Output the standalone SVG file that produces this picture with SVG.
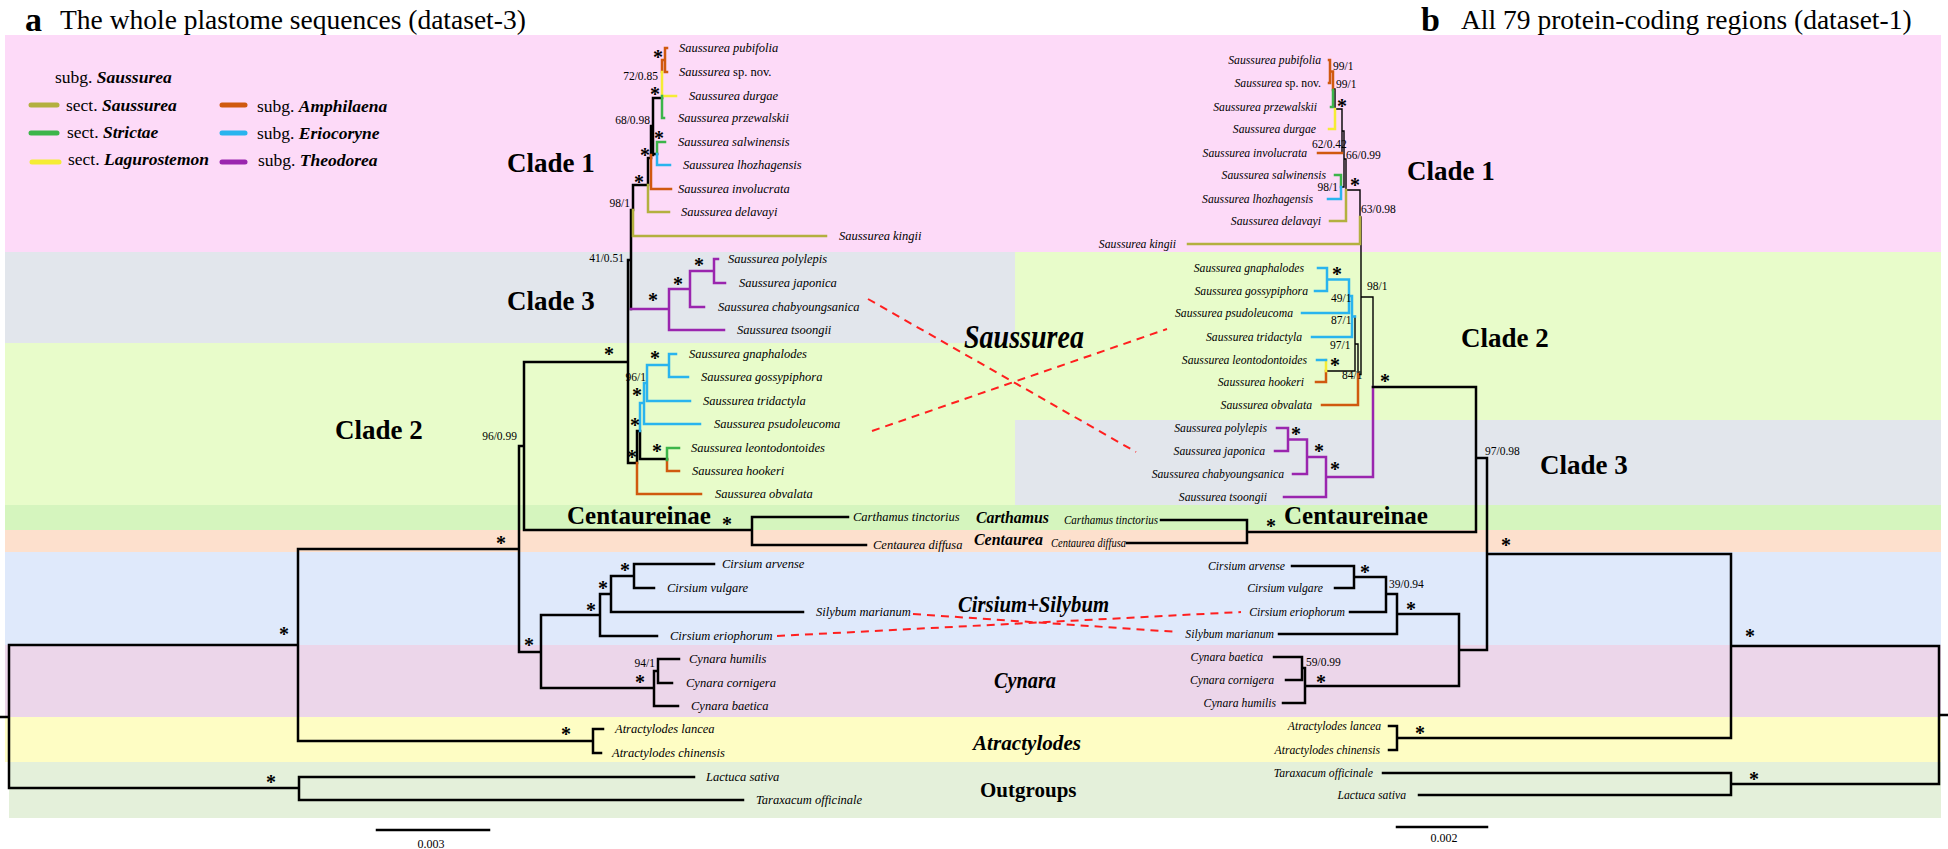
<svg xmlns="http://www.w3.org/2000/svg" width="1948" height="849" viewBox="0 0 1948 849">
<style>
text{font-family:"Liberation Serif","Times New Roman",serif;fill:#000}
.tl{font-size:12.5px;font-style:italic}
.tr{font-size:11.7px;font-style:italic;text-anchor:end}
.up{font-style:normal}
.sv{font-size:11.5px}
.sve{font-size:11.5px;text-anchor:end}
.ast{font-size:20px;font-weight:bold;text-anchor:middle}
.cl{font-size:27px;font-weight:bold}
.gi{font-weight:bold;font-style:italic}
.br{fill:none;stroke-width:2.5;stroke-linecap:square}
.th{stroke-width:1.4}
.k{stroke:#000}.o{stroke:#b3b03f}.g{stroke:#3cb54a}.y{stroke:#f5ec35}.r{stroke:#d0590f}.b{stroke:#29b4ee}.p{stroke:#9a25ae}
.dash{fill:none;stroke:#ff1f1f;stroke-width:2;stroke-dasharray:8 6}
.sw{stroke-width:5;stroke-linecap:round}
.leg{font-size:17.5px}
</style>
<g id="bands">
<rect x="5" y="35" width="1936" height="217" fill="#fddaf8"/>
<rect x="5" y="252" width="1010" height="91" fill="#e2e6ec"/>
<rect x="5" y="343" width="1010" height="162" fill="#e8fcca"/>
<rect x="1015" y="252" width="926" height="168" fill="#e8fcca"/>
<rect x="1015" y="420" width="926" height="85" fill="#e2e6ec"/>
<rect x="5" y="505" width="1936" height="25" fill="#d5f5be"/>
<rect x="5" y="530" width="1936" height="22" fill="#fde0cd"/>
<rect x="5" y="552" width="1936" height="93" fill="#dfe9fb"/>
<rect x="5" y="645" width="1936" height="72" fill="#ecd6ea"/>
<rect x="5" y="717" width="1936" height="45" fill="#fefdc4"/>
<rect x="9" y="762" width="1932" height="56" fill="#e4f0da"/>
</g>
<g id="titles">
<text x="25" y="31" font-size="34" font-weight="bold">a</text>
<text x="60" y="29" font-size="27.5">The whole plastome sequences (dataset-3)</text>
<text x="1421" y="31" font-size="34" font-weight="bold">b</text>
<text x="1461" y="29" font-size="27.5">All 79 protein-coding regions (dataset-1)</text>
</g>
<g id="legend">
<text class="leg" x="55" y="83">subg. <tspan class="gi">Saussurea</tspan></text>
<line class="sw o" x1="31" y1="105" x2="57" y2="105"/>
<text class="leg" x="66" y="111">sect. <tspan class="gi">Saussurea</tspan></text>
<line class="sw g" x1="31" y1="133" x2="57" y2="133"/>
<text class="leg" x="67" y="138">sect. <tspan class="gi">Strictae</tspan></text>
<line class="sw y" x1="32" y1="162" x2="59" y2="162"/>
<text class="leg" x="68" y="165">sect. <tspan class="gi">Lagurostemon</tspan></text>
<line class="sw r" x1="222" y1="105" x2="245" y2="105"/>
<text class="leg" x="257" y="112">subg. <tspan class="gi">Amphilaena</tspan></text>
<line class="sw b" x1="222" y1="133" x2="245" y2="133"/>
<text class="leg" x="257" y="139">subg. <tspan class="gi">Eriocoryne</tspan></text>
<line class="sw p" x1="222" y1="162" x2="245" y2="162"/>
<text class="leg" x="258" y="166">subg. <tspan class="gi">Theodorea</tspan></text>
</g>
<g id="group-labels">
<text class="cl" x="507" y="172">Clade 1</text>
<text class="cl" x="507" y="310">Clade 3</text>
<text class="cl" x="335" y="439">Clade 2</text>
<text x="567" y="524" font-size="25" font-weight="bold">Centaureinae</text>
<text class="cl" x="1407" y="180">Clade 1</text>
<text class="cl" x="1461" y="347">Clade 2</text>
<text class="cl" x="1540" y="474">Clade 3</text>
<text x="1284" y="524" font-size="25" font-weight="bold">Centaureinae</text>
<text class="gi" x="964" y="348" font-size="34" textLength="120" lengthAdjust="spacingAndGlyphs">Saussurea</text>
<text class="gi" x="958" y="612" font-size="23" textLength="151" lengthAdjust="spacingAndGlyphs">Cirsium+Silybum</text>
<text class="gi" x="994" y="688" font-size="24" textLength="62" lengthAdjust="spacingAndGlyphs">Cynara</text>
<text class="gi" x="973" y="750" font-size="22" textLength="108" lengthAdjust="spacingAndGlyphs">Atractylodes</text>
<text x="980" y="797" font-size="21" font-weight="bold">Outgroups</text>
<text class="gi" x="976" y="523" font-size="16.5" textLength="73" lengthAdjust="spacingAndGlyphs">Carthamus</text>
<text class="gi" x="974" y="545" font-size="16.5" textLength="69" lengthAdjust="spacingAndGlyphs">Centaurea</text>
</g>
<g id="connectors">
<path class="br k" d="M662,98H653M653,98V155M657,154H653M653,126H651M651,126V155M651,158H648M648,158V185M648,185H633M633,185V210M633,210H631M631,210V309M631,260H628M640,431V459M667,459H640M640,431H637M637,431V463M637,463H628M628,260V463M628,362H524M524,362V530M524,446H519M524,530H752M752,517V545M752,517H848M752,545H866M634,564V588M634,564H714M634,588H654M634,576H611M611,576V612M611,612H803M611,594H600M600,594V636M600,636H657M600,615H541M658,659V683M658,659H679M658,683H672M658,671H654M654,671V706M654,706H678M654,688H541M541,615V688M541,652H519M519,446V652M519,549H298M593,729V753M593,729H603M593,753H601M593,741H298M298,549V741M298,645H9M299,777V800M299,777H694M299,800H743M299,788H9M9,645V788M9,717H0"/>
<path class="br r" d="M665,48V72M665,48H667M665,72H667M665,60H662M662,60V72M651,155V189M651,189H671M667,460V471M667,471H679M637,463V494M637,494H701"/>
<path class="br y" d="M662,72V96M662,96H676"/>
<path class="br g" d="M662,96V118M662,118H664M657,142V154M657,142H665M667,448V460M667,448H679"/>
<path class="br b" d="M657,154V165M657,165H670M669,354V377M669,354H676M669,377H688M669,365H647M647,365V401M647,401H690M647,383H644M644,383V424M644,424H700M644,403H640M640,403V431"/>
<path class="br o" d="M648,185V212M648,212H669M633,210V236M633,236H826"/>
<path class="br p" d="M714,259V283M714,259H718M714,283H725M714,271H690M690,271V307M690,307H704M690,289H669M669,289V330M669,330H724M669,309H631"/>
<path class="br k th" d="M1335,89V109M1335,109H1342M1342,109V153M1342,131H1344M1341,187H1344M1344,131V187M1344,159H1346M1346,159V190M1346,190H1360M1360,190V217M1360,217H1361M1361,217V374M1361,297H1373M1373,297V387M1326,371H1355M1355,316.5V371M1355,344H1358M1358,344V374M1358,374.5H1361M1333,89H1335"/>
<path class="br r" d="M1329,60H1330M1329,83H1330M1330,60V83M1330,71.5H1333M1333,71.5V90M1318,153H1342M1326,371V382M1316,382H1326M1358,374V405M1322,405H1358"/>
<path class="br g" d="M1333,90V107M1331,107H1333M1341,175V187M1335,175H1341"/>
<path class="br y" d="M1335,109V129M1329,129H1335M1326,360V371"/>
<path class="br b" d="M1341,187V199M1328,199H1341M1318,268H1327M1315,291H1327M1327,268V291M1327,279.5H1349M1302,313H1349M1349,279.5V313M1349,296H1352M1312,337H1352M1352,296V337M1352,316.5H1355M1317,360H1326"/>
<path class="br o" d="M1330,221H1346M1346,190V221M1188,244H1360M1360,217V244"/>
<path class="br p" d="M1277,428H1288M1275,451H1288M1288,428V451M1288,439.5H1307M1293,474H1307M1307,439.5V474M1307,457H1326M1284,497H1326M1326,457V497M1326,477H1373M1373,387V477"/>
<path class="br k" d="M1373,387H1476M1476,387V532M1247,532H1476M1247,520V543M1161,520H1247M1127,543H1247M1476,458H1487M1487,458V650M1292,566H1354M1335,588H1354M1354,566V588M1354,577H1386M1350,612H1386M1386,577V612M1386,594H1397M1279,634H1397M1397,594V634M1397,614H1459M1459,614V686M1459,650H1487M1274,657H1302M1286,680H1302M1302,657V680M1302,668H1305M1283,703H1305M1305,668V703M1305,686H1459M1487,554H1731M1731,554V738M1389,726H1397M1389,750H1397M1397,726V750M1397,738H1731M1731,646H1939M1383,773H1731M1419,795H1731M1731,773V795M1731,784H1939M1939,646V784M1939,715H1948"/>
<path class="dash" d="M868,299L1136,452M872,431L1167,329M777,636L1241,612M913,614L1178,632"/>
</g>
<g id="support-a">
<text class="sve" x="658" y="80">72/0.85</text>
<text class="sve" x="650" y="124">68/0.98</text>
<text class="sve" x="630" y="207">98/1</text>
<text class="sve" x="624" y="262">41/0.51</text>
<text class="sve" x="646" y="381" font-size="10">96/1</text>
<text class="sve" x="517" y="440" font-size="13.5">96/0.99</text>
<text class="sve" x="655" y="667">94/1</text>
<text class="ast" x="658" y="64">*</text>
<text class="ast" x="655" y="101">*</text>
<text class="ast" x="659" y="145">*</text>
<text class="ast" x="645" y="162">*</text>
<text class="ast" x="639" y="189">*</text>
<text class="ast" x="699" y="272">*</text>
<text class="ast" x="678" y="291">*</text>
<text class="ast" x="653" y="307">*</text>
<text class="ast" x="609" y="361">*</text>
<text class="ast" x="655" y="365">*</text>
<text class="ast" x="637" y="402">*</text>
<text class="ast" x="635" y="432">*</text>
<text class="ast" x="632" y="464">*</text>
<text class="ast" x="657" y="458">*</text>
<text class="ast" x="727" y="531">*</text>
<text class="ast" x="501" y="550">*</text>
<text class="ast" x="625" y="577">*</text>
<text class="ast" x="603" y="595">*</text>
<text class="ast" x="591" y="617">*</text>
<text class="ast" x="529" y="652">*</text>
<text class="ast" x="640" y="689">*</text>
<text class="ast" x="566" y="741">*</text>
<text class="ast" x="284" y="641">*</text>
<text class="ast" x="271" y="789">*</text>
</g>
<g id="support-b">
<text class="sv" x="1333" y="70">99/1</text>
<text class="sv" x="1336" y="88">99/1</text>
<text class="sv" x="1312" y="148" font-size="9.5">62/0.42</text>
<text class="sv" x="1346" y="159">66/0.99</text>
<text class="sve" x="1338" y="191">98/1</text>
<text class="sv" x="1361" y="213">63/0.98</text>
<text class="sv" x="1367" y="290" font-size="13">98/1</text>
<text class="sv" x="1331" y="302">49/1</text>
<text class="sv" x="1331" y="324">87/1</text>
<text class="sv" x="1330" y="349">97/1</text>
<text class="sv" x="1342" y="379" font-size="9">84/1</text>
<text class="sv" x="1485" y="455" font-size="13.5">97/0.98</text>
<text class="sv" x="1389" y="588">39/0.94</text>
<text class="sv" x="1306" y="666">59/0.99</text>
<text class="ast" x="1342" y="113">*</text>
<text class="ast" x="1355" y="192">*</text>
<text class="ast" x="1337" y="281">*</text>
<text class="ast" x="1335" y="372">*</text>
<text class="ast" x="1385" y="388">*</text>
<text class="ast" x="1296" y="441">*</text>
<text class="ast" x="1319" y="458">*</text>
<text class="ast" x="1335" y="476">*</text>
<text class="ast" x="1271" y="533">*</text>
<text class="ast" x="1506" y="552">*</text>
<text class="ast" x="1365" y="579">*</text>
<text class="ast" x="1411" y="616">*</text>
<text class="ast" x="1321" y="689">*</text>
<text class="ast" x="1750" y="643">*</text>
<text class="ast" x="1420" y="740">*</text>
<text class="ast" x="1754" y="786">*</text>
</g>
<g id="tips-a">
<g id="a-pubifolia"><text class="tl" x="679" y="52">Saussurea pubifolia</text></g>
<g id="a-spnov"><text class="tl" x="679" y="76">Saussurea <tspan class="up">sp. nov.</tspan></text></g>
<g id="a-durgae"><text class="tl" x="689" y="100">Saussurea durgae</text></g>
<g id="a-przewalskii"><text class="tl" x="678" y="122">Saussurea przewalskii</text></g>
<g id="a-salwinensis"><text class="tl" x="678" y="146">Saussurea salwinensis</text></g>
<g id="a-lhozhagensis"><text class="tl" x="683" y="169">Saussurea lhozhagensis</text></g>
<g id="a-involucrata"><text class="tl" x="678" y="193">Saussurea involucrata</text></g>
<g id="a-delavayi"><text class="tl" x="681" y="216">Saussurea delavayi</text></g>
<g id="a-kingii"><text class="tl" x="839" y="240">Saussurea kingii</text></g>
<g id="a-polylepis"><text class="tl" x="728" y="263">Saussurea polylepis</text></g>
<g id="a-japonica"><text class="tl" x="739" y="287">Saussurea japonica</text></g>
<g id="a-chabyoungsanica"><text class="tl" x="718" y="311">Saussurea chabyoungsanica</text></g>
<g id="a-tsoongii"><text class="tl" x="737" y="334">Saussurea tsoongii</text></g>
<g id="a-gnaphalodes"><text class="tl" x="689" y="358">Saussurea gnaphalodes</text></g>
<g id="a-gossypiphora"><text class="tl" x="701" y="381">Saussurea gossypiphora</text></g>
<g id="a-tridactyla"><text class="tl" x="703" y="405">Saussurea tridactyla</text></g>
<g id="a-psudoleucoma"><text class="tl" x="714" y="428">Saussurea psudoleucoma</text></g>
<g id="a-leontodontoides"><text class="tl" x="691" y="452">Saussurea leontodontoides</text></g>
<g id="a-hookeri"><text class="tl" x="692" y="475">Saussurea hookeri</text></g>
<g id="a-obvalata"><text class="tl" x="715" y="498">Saussurea obvalata</text></g>
<g id="a-carthamus"><text class="tl" x="853" y="521">Carthamus tinctorius</text></g>
<g id="a-centaurea"><text class="tl" x="873" y="549">Centaurea diffusa</text></g>
<g id="a-arvense"><text class="tl" x="722" y="568">Cirsium arvense</text></g>
<g id="a-vulgare"><text class="tl" x="667" y="592">Cirsium vulgare</text></g>
<g id="a-silybum"><text class="tl" x="816" y="616">Silybum marianum</text></g>
<g id="a-eriophorum"><text class="tl" x="670" y="640">Cirsium eriophorum</text></g>
<g id="a-humilis"><text class="tl" x="689" y="663">Cynara humilis</text></g>
<g id="a-cornigera"><text class="tl" x="686" y="687">Cynara cornigera</text></g>
<g id="a-baetica"><text class="tl" x="691" y="710">Cynara baetica</text></g>
<g id="a-lancea"><text class="tl" x="615" y="733">Atractylodes lancea</text></g>
<g id="a-chinensis"><text class="tl" x="612" y="757">Atractylodes chinensis</text></g>
<g id="a-lactuca"><text class="tl" x="706" y="781">Lactuca sativa</text></g>
<g id="a-taraxacum"><text class="tl" x="756" y="804">Taraxacum officinale</text></g>
</g>
<g id="tips-b">
<g id="b-pubifolia"><text class="tr" x="1321" y="64">Saussurea pubifolia</text></g>
<g id="b-spnov"><text class="tr" x="1321" y="87">Saussurea <tspan class="up">sp. nov.</tspan></text></g>
<g id="b-przewalskii"><text class="tr" x="1317" y="111">Saussurea przewalskii</text></g>
<g id="b-durgae"><text class="tr" x="1316" y="133">Saussurea durgae</text></g>
<g id="b-involucrata"><text class="tr" x="1307" y="157">Saussurea involucrata</text></g>
<g id="b-salwinensis"><text class="tr" x="1326" y="179">Saussurea salwinensis</text></g>
<g id="b-lhozhagensis"><text class="tr" x="1313" y="203">Saussurea lhozhagensis</text></g>
<g id="b-delavayi"><text class="tr" x="1321" y="225">Saussurea delavayi</text></g>
<g id="b-kingii"><text class="tr" x="1176" y="248">Saussurea kingii</text></g>
<g id="b-gnaphalodes"><text class="tr" x="1304" y="272">Saussurea gnaphalodes</text></g>
<g id="b-gossypiphora"><text class="tr" x="1308" y="295">Saussurea gossypiphora</text></g>
<g id="b-psudoleucoma"><text class="tr" x="1293" y="317">Saussurea psudoleucoma</text></g>
<g id="b-tridactyla"><text class="tr" x="1302" y="341">Saussurea tridactyla</text></g>
<g id="b-leontodontoides"><text class="tr" x="1307" y="364">Saussurea leontodontoides</text></g>
<g id="b-hookeri"><text class="tr" x="1304" y="386">Saussurea hookeri</text></g>
<g id="b-obvalata"><text class="tr" x="1312" y="409">Saussurea obvalata</text></g>
<g id="b-polylepis"><text class="tr" x="1267" y="432">Saussurea polylepis</text></g>
<g id="b-japonica"><text class="tr" x="1265" y="455">Saussurea japonica</text></g>
<g id="b-chabyoungsanica"><text class="tr" x="1284" y="478">Saussurea chabyoungsanica</text></g>
<g id="b-tsoongii"><text class="tr" x="1267" y="501">Saussurea tsoongii</text></g>
<g id="b-carthamus"><text class="tr" x="1158" y="524" textLength="94" lengthAdjust="spacingAndGlyphs">Carthamus tinctorius</text></g>
<g id="b-centaurea"><text class="tr" x="1126" y="547" textLength="75" lengthAdjust="spacingAndGlyphs">Centaurea diffusa</text></g>
<g id="b-arvense"><text class="tr" x="1285" y="570">Cirsium arvense</text></g>
<g id="b-vulgare"><text class="tr" x="1323" y="592">Cirsium vulgare</text></g>
<g id="b-eriophorum"><text class="tr" x="1345" y="616">Cirsium eriophorum</text></g>
<g id="b-silybum"><text class="tr" x="1274" y="638">Silybum marianum</text></g>
<g id="b-baetica"><text class="tr" x="1263" y="661">Cynara baetica</text></g>
<g id="b-cornigera"><text class="tr" x="1274" y="684">Cynara cornigera</text></g>
<g id="b-humilis"><text class="tr" x="1276" y="707">Cynara humilis</text></g>
<g id="b-lancea"><text class="tr" x="1381" y="730">Atractylodes lancea</text></g>
<g id="b-chinensis"><text class="tr" x="1380" y="754">Atractylodes chinensis</text></g>
<g id="b-taraxacum"><text class="tr" x="1373" y="777">Taraxacum officinale</text></g>
<g id="b-lactuca"><text class="tr" x="1406" y="799">Lactuca sativa</text></g>
</g>
<g id="scales">
<path class="br k" d="M377,830H489M1397,827H1487"/>
<text x="431" y="848" font-size="12" text-anchor="middle">0.003</text>
<text x="1444" y="842" font-size="12" text-anchor="middle">0.002</text>
</g>
</svg>
